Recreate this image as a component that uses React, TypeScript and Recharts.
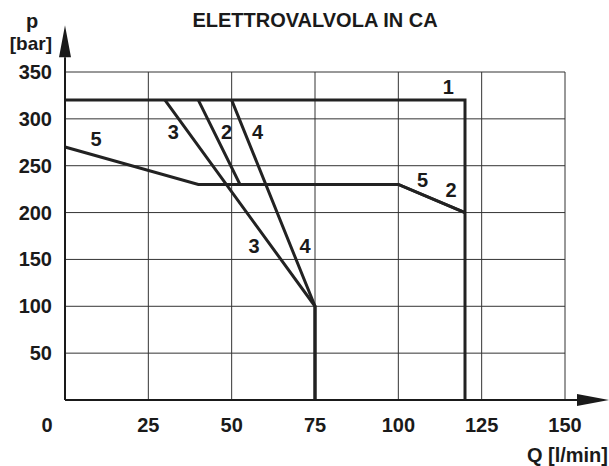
import React from 'react';
import {
  ComposedChart,
  Line,
  Scatter,
  XAxis,
  YAxis,
  CartesianGrid,
  ReferenceLine,
  Customized,
} from 'recharts';

// axis ticks
const xTicks = [0, 25, 50, 75, 100, 125, 150];
const yTicks = [50, 100, 150, 200, 250, 300, 350];

// curves: Q [l/min] -> p [bar]
const curve1 = [
  { q: 0, p: 320 },
  { q: 120, p: 320 },
  { q: 120, p: 0 },
];
const curve2 = [
  { q: 40, p: 320 },
  { q: 52.5, p: 230 },
  { q: 100, p: 230 },
  { q: 120, p: 200 },
];
const curve3 = [
  { q: 30, p: 320 },
  { q: 75, p: 100 },
  { q: 75, p: 0 },
];
const curve4 = [
  { q: 50, p: 320 },
  { q: 75, p: 100 },
  { q: 75, p: 0 },
];
const curve5 = [
  { q: 0, p: 270 },
  { q: 40, p: 230 },
  { q: 100, p: 230 },
  { q: 120, p: 200 },
];

// curve numbers written next to the lines
const curveLabels = [
  { q: 115, p: 334, t: '1' },
  { q: 9.3, p: 278, t: '5' },
  { q: 32.5, p: 286, t: '3' },
  { q: 48.5, p: 286, t: '2' },
  { q: 57.8, p: 286, t: '4' },
  { q: 56.7, p: 164, t: '3' },
  { q: 72, p: 164, t: '4' },
  { q: 107.3, p: 235, t: '5' },
  { q: 115.8, p: 224, t: '2' },
];

// arrow tips of the axes, in data units
const xAxisEnd = 163.2;
const yAxisEnd = 400;

const FONT = '"Liberation Sans", Arial, sans-serif';
const INK = '#1a1a1a';
const LINE = '#222';

const Arrow = (props: any) => {
  const { x1, y1, x2, y2 } = props;
  const dx = x2 - x1;
  const dy = y2 - y1;
  const len = Math.sqrt(dx * dx + dy * dy) || 1;
  const ux = dx / len;
  const uy = dy / len;
  const head = 32;
  const half = 6;
  const bx = x2 - ux * head;
  const by = y2 - uy * head;
  const pts = `${x2},${y2} ${bx - uy * half},${by + ux * half} ${bx + uy * half},${by - ux * half}`;
  return (
    <g>
      <line x1={x1} y1={y1} x2={bx} y2={by} stroke={INK} strokeWidth={2} />
      <polygon points={pts} fill={INK} />
    </g>
  );
};

const XTick = (props: any) => {
  const { x, y, payload } = props;
  const shift = payload.value === 0 ? -18 : 0;
  return (
    <text x={x + shift} y={y} dy={14} textAnchor="middle" fill={INK} fontSize={20} fontWeight="bold" fontFamily={FONT}>
      {payload.value}
    </text>
  );
};

const YTick = (props: any) => {
  const { x, y, payload } = props;
  return (
    <text x={x} y={y} dy={7} textAnchor="end" fill={INK} fontSize={20} fontWeight="bold" fontFamily={FONT}>
      {payload.value}
    </text>
  );
};

const CurveLabel = (props: any) => {
  const { cx, cy, payload } = props;
  return (
    <text x={cx} y={cy} dy={7} textAnchor="middle" fill={INK} fontSize={20} fontWeight="bold" fontFamily={FONT}>
      {payload.t}
    </text>
  );
};

const Texts = () => (
  <g fontFamily={FONT} fontWeight="bold" fill={INK}>
    <text x={315} y={27} textAnchor="middle" fontSize={20}>
      ELETTROVALVOLA IN CA
    </text>
    <text x={32} y={28} textAnchor="middle" fontSize={20}>
      p
    </text>
    <text x={52} y={50} textAnchor="end" fontSize={19}>
      [bar]
    </text>
    <text x={608} y={462} textAnchor="end" fontSize={20}>
      Q [l/min]
    </text>
  </g>
);

export default function App() {
  const curves = [curve1, curve2, curve3, curve4, curve5];
  return (
    <div style={{ width: 609, height: 466, background: '#fff' }}>
      <style>{'body{margin:0}'}</style>
      <ComposedChart width={609} height={466} margin={{ top: 72, right: 44, left: 0, bottom: 0 }}>
        <CartesianGrid stroke="#333" strokeWidth={1} />
        <XAxis
          type="number"
          dataKey="q"
          domain={[0, 150]}
          ticks={xTicks}
          interval={0}
          height={66}
          axisLine={false}
          tickLine={false}
          tickSize={0}
          tickMargin={18}
          tick={<XTick />}
        />
        <YAxis
          type="number"
          dataKey="p"
          domain={[0, 350]}
          ticks={yTicks}
          interval={0}
          width={65}
          axisLine={false}
          tickLine={false}
          tickSize={0}
          tickMargin={13}
          tick={<YTick />}
        />
        {curves.map((c, i) => (
          <Line
            key={i}
            data={c}
            dataKey="p"
            type="linear"
            stroke={LINE}
            strokeWidth={3}
            strokeLinejoin="miter"
            dot={false}
            activeDot={false}
            isAnimationActive={false}
          />
        ))}
        <ReferenceLine
          segment={[{ x: 0, y: 0 }, { x: xAxisEnd, y: 0 }]}
          ifOverflow="visible"
          shape={<Arrow />}
        />
        <ReferenceLine
          segment={[{ x: 0, y: 0 }, { x: 0, y: yAxisEnd }]}
          ifOverflow="visible"
          shape={<Arrow />}
        />
        <Scatter data={curveLabels} dataKey="p" shape={<CurveLabel />} isAnimationActive={false} />
        <Customized component={<Texts />} />
      </ComposedChart>
    </div>
  );
}
